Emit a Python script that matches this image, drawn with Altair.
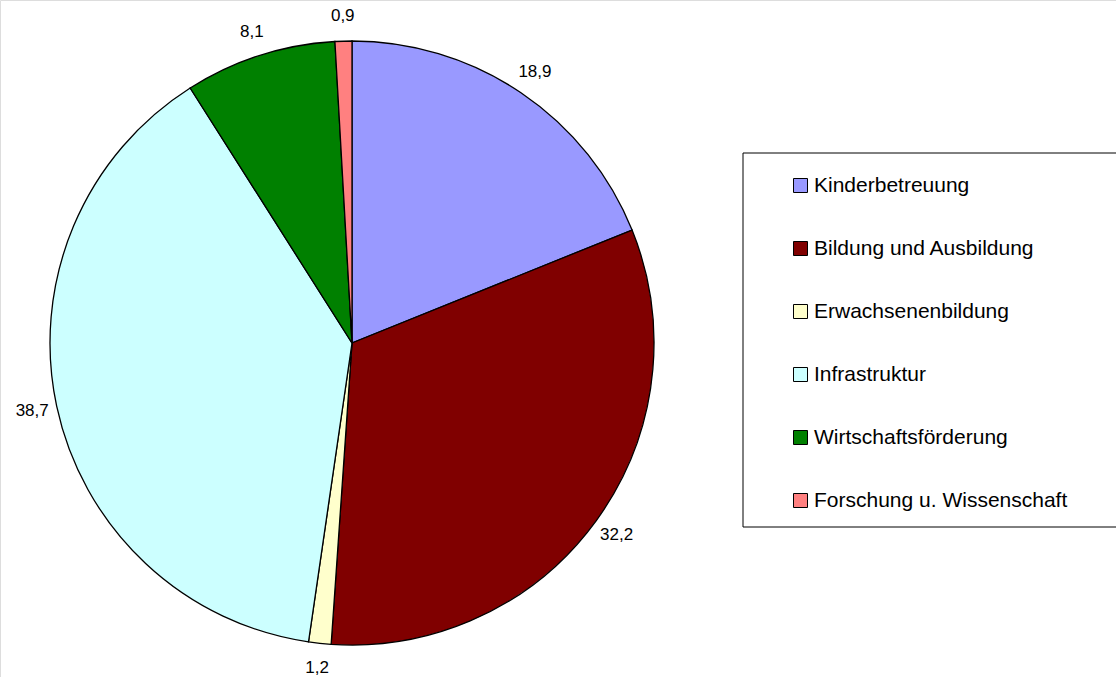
import altair as alt
import pandas as pd

categories = ["Kinderbetreuung", "Bildung und Ausbildung", "Erwachsenenbildung",
              "Infrastruktur", "Wirtschaftsförderung", "Forschung u. Wissenschaft"]
values = [18.9, 32.2, 1.2, 38.7, 8.1, 0.9]
colors = ["#9999FF", "#800000", "#FFFFCC", "#CCFFFF", "#008000", "#FF8080"]
labels = [f"{v:.1f}".replace(".", ",") for v in values]

df = pd.DataFrame({
    "cat": categories,
    "value": values,
    "label": labels,
    "idx": list(range(len(categories))),
})

FONT = "Liberation Sans"
CX, CY = 352, 343

base = alt.Chart(df).encode(
    theta=alt.Theta("value:Q", stack=True),
    order=alt.Order("idx:Q"),
    x=alt.value(CX),
    y=alt.value(CY),
)

arcs = base.mark_arc(radius=302, stroke="black", strokeWidth=1.3).encode(
    color=alt.Color(
        "cat:N",
        sort=categories,
        scale=alt.Scale(domain=categories, range=colors),
        legend=alt.Legend(
            title=None,
            orient="none",
            legendX=790,
            legendY=175,
            padding=0,
            symbolType="square",
            symbolSize=196,
            symbolStrokeColor="black",
            symbolStrokeWidth=1,
            symbolOpacity=1,
            labelFont=FONT,
            labelFontSize=21,
            labelColor="black",
            labelLimit=500,
            labelOffset=3,
            rowPadding=41,
        ),
    )
)

texts = base.mark_text(radius=327, font=FONT, fontSize=17, color="black").encode(
    text="label:N"
)

box = alt.Chart(pd.DataFrame({"a": [0]})).mark_rect(
    fill="white", stroke="black", strokeWidth=1
).encode(
    x=alt.value(743), x2=alt.value(1117), y=alt.value(153), y2=alt.value(527)
)

chart = alt.layer(box, arcs, texts).properties(
    width=1116, height=677, autosize=alt.AutoSizeParams(type="none"), padding=0
).configure_view(stroke=None).configure(background="white")

chart.save("out.html", embed_options={"renderer": "svg", "actions": False})
